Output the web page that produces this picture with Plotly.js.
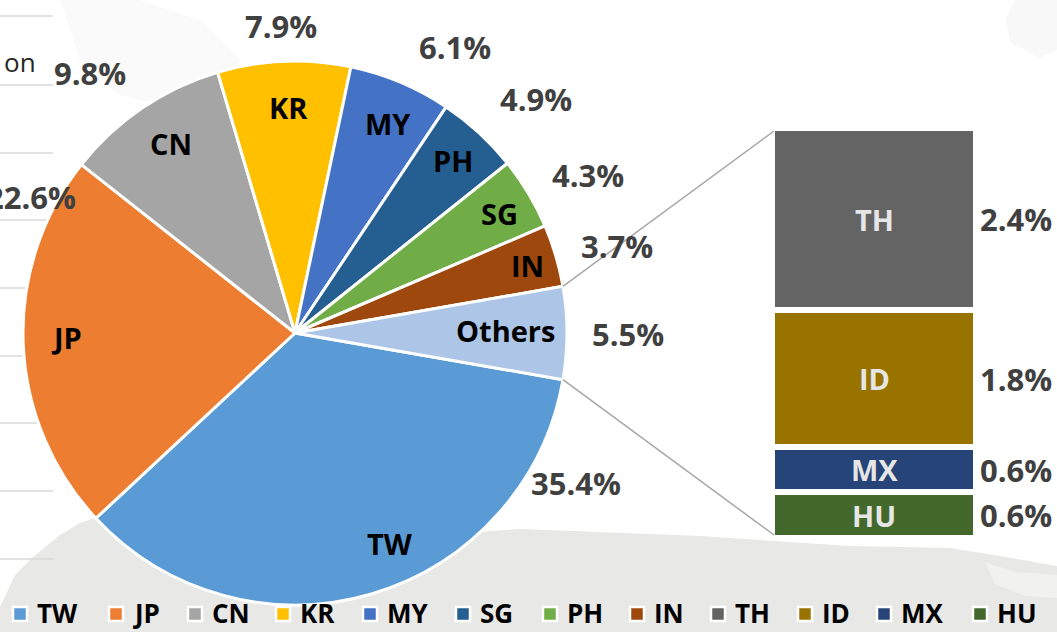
<!DOCTYPE html>
<html>
<head>
<meta charset="utf-8">
<script src="https://cdn.plot.ly/plotly-3.0.1.min.js"></script>
<style>
  html, body { margin: 0; padding: 0; background: #ffffff; }
  #chart { width: 1057px; height: 632px; }
</style>
</head>
<body>
<div id="chart"></div>
<script>
// ---------------- data ----------------
const pieLabels = ['TW', 'JP', 'CN', 'KR', 'MY', 'PH', 'SG', 'IN', 'Others'];
const pieValues = [35.4, 22.6, 9.8, 7.9, 6.1, 4.9, 4.3, 3.7, 5.5];
const pieColors = ['#5B9BD5', '#ED7D31', '#A5A5A5', '#FFC000', '#4472C4', '#255E91', '#70AD47', '#9E480E', '#ADC5E7'];

const subLabels = ['TH', 'ID', 'MX', 'HU'];
const subValues = [2.4, 1.8, 0.6, 0.6];
const subColors = ['#646464', '#997300', '#264478', '#43682B'];

const legendLabels = ['TW', 'JP', 'CN', 'KR', 'MY', 'SG', 'PH', 'IN', 'TH', 'ID', 'MX', 'HU'];
const legendColors = ['#5B9BD5', '#ED7D31', '#A5A5A5', '#FFC000', '#4472C4', '#255E91', '#70AD47', '#9E480E', '#646464', '#997300', '#264478', '#43682B'];

// ---------------- layout helpers (pixel positions of text) ----------------
const W = 1057, H = 632;
const px = x => x / W;
const py = y => 1 - y / H;

const pieCx = 295, pieCy = 333, pieR = 272;
const pieInsidePos = [[390, 543], [66, 337], [171, 143], [288, 107], [388, 123], [453, 160], [499, 213], [527, 265], [505, 330]];
const piePctPos = [[576, 483], [31, 197], [90, 73], [281, 26], [455, 47], [536, 99], [588, 175], [617, 246], [628, 334]];
const legendSquareX = [14, 110, 189, 277, 364, 457, 544, 631, 712, 799, 878, 974];
const legendY = 614;
const barBox = {x0: 772, x1: 976, y0: 128, y1: 538};

const FONT = '"Open Sans", "DejaVu Sans", sans-serif';
const pctFont = {family: FONT, size: 31, color: '#404040', weight: 'bold'};

const total = pieValues.reduce((a, b) => a + b, 0);
const othersDeg = pieValues[pieValues.length - 1] / total * 360;
const rotation = 90 + othersDeg / 2;

// ---------------- traces ----------------
const traces = [];
traces.push({
  type: 'pie',
  labels: pieLabels,
  values: pieValues,
  sort: false,
  direction: 'clockwise',
  rotation: rotation,
  marker: {colors: pieColors, line: {color: '#ffffff', width: 3}},
  textinfo: 'none',
  hoverinfo: 'skip',
  showlegend: false,
  domain: {x: [px(pieCx - pieR), px(pieCx + pieR)], y: [py(pieCy + pieR), py(pieCy - pieR)]}
});

// stacked bar (bottom to top: HU, MX, ID, TH)
for (let i = subLabels.length - 1; i >= 0; i--) {
  traces.push({
    type: 'bar',
    x: [0],
    y: [subValues[i]],
    width: 1,
    name: subLabels[i],
    marker: {color: subColors[i], line: {color: '#ffffff', width: 6}},
    hoverinfo: 'skip',
    showlegend: false,
    xaxis: 'x', yaxis: 'y'
  });
}

// ---------------- annotations ----------------
const annotations = [];
pieLabels.forEach((lab, i) => {
  annotations.push({
    xref: 'paper', yref: 'paper', x: px(pieInsidePos[i][0]), y: py(pieInsidePos[i][1]),
    text: lab, showarrow: false, xanchor: 'center', yanchor: 'middle',
    font: {family: FONT, size: 29, color: '#000000', weight: 'bold'}
  });
  annotations.push({
    xref: 'paper', yref: 'paper', x: px(piePctPos[i][0]), y: py(piePctPos[i][1]),
    text: pieValues[i].toFixed(1) + '%', showarrow: false, xanchor: 'center', yanchor: 'middle',
    font: pctFont
  });
});

// bar segment labels from data
const subTotal = subValues.reduce((a, b) => a + b, 0);
let cum = 0;
const mids = [];
for (let i = subLabels.length - 1; i >= 0; i--) {
  mids[i] = cum + subValues[i] / 2;
  cum += subValues[i];
}
subLabels.forEach((lab, i) => {
  annotations.push({
    xref: 'x', yref: 'y', x: 0, y: mids[i], text: lab, showarrow: false,
    xanchor: 'center', yanchor: 'middle',
    font: {family: FONT, size: 29, color: '#E6E6E6', weight: 'bold'}
  });
  annotations.push({
    xref: 'x', yref: 'y', x: 0.5, y: mids[i], text: subValues[i].toFixed(1) + '%', showarrow: false,
    xanchor: 'left', yanchor: 'middle', xshift: 2,
    font: pctFont
  });
});

// legend text (box bottom sits on the page edge)
legendLabels.forEach((lab, i) => {
  annotations.push({
    xref: 'paper', yref: 'paper', x: px(legendSquareX[i] + 22), y: 0,
    text: lab, showarrow: false, xanchor: 'left', yanchor: 'bottom', borderpad: 0,
    font: {family: FONT, size: 26, color: '#000000', weight: 'bold'}
  });
});

// cut-off background text
annotations.push({
  xref: 'paper', yref: 'paper', x: px(38), y: py(62), text: 'on', showarrow: false,
  xanchor: 'right', yanchor: 'middle',
  font: {family: FONT, size: 26, color: '#262626'}
});

// ---------------- shapes ----------------
const shapes = [];
function pathFrom(pts) {
  return 'M' + pts.map(p => px(p[0]).toFixed(5) + ',' + py(p[1]).toFixed(5)).join(' L') + ' Z';
}
// faint background photo (palm tree) approximation
shapes.push({type: 'path', xref: 'paper', yref: 'paper', layer: 'below', line: {width: 0}, fillcolor: '#e8e8e6',
  path: pathFrom([[0, 607], [15, 575], [33, 557], [60, 535], [80, 523], [97, 517], [140, 520], [200, 528], [300, 535], [400, 530], [460, 533], [520, 529], [600, 532], [700, 536], [760, 540], [850, 546], [950, 548], [1000, 556], [1057, 566], [1057, 632], [0, 632]])});
shapes.push({type: 'path', xref: 'paper', yref: 'paper', layer: 'below', line: {width: 0}, fillcolor: '#f1f1f0',
  path: pathFrom([[985, 562], [1015, 572], [1057, 575], [1057, 598], [1025, 596], [995, 584]])});
shapes.push({type: 'path', xref: 'paper', yref: 'paper', layer: 'below', line: {width: 0}, fillcolor: '#fafafa',
  path: pathFrom([[60, 0], [140, 0], [200, 20], [240, 60], [230, 100], [180, 110], [120, 95], [80, 60]])});
shapes.push({type: 'path', xref: 'paper', yref: 'paper', layer: 'below', line: {width: 0}, fillcolor: '#f8f8f8',
  path: pathFrom([[1015, 0], [1057, 0], [1057, 50], [1040, 58], [1010, 42], [1006, 18]])});

// left gridlines of a previous chart
[16, 85, 153, 220, 288, 356, 423, 491, 559].forEach(y => {
  shapes.push({type: 'line', xref: 'paper', yref: 'paper', layer: 'below',
    x0: 0, x1: px(53), y0: py(y), y1: py(y), line: {color: '#d9d9d9', width: 1.5}});
});

// connector lines from the "Others" slice edges to the bar corners
const aTop = (rotation - othersDeg) * Math.PI / 180;
const aBot = rotation * Math.PI / 180;
const edge = a => [pieCx + pieR * Math.sin(a), pieCy - pieR * Math.cos(a)];
const eTop = edge(aTop), eBot = edge(aBot);
shapes.push({type: 'line', xref: 'paper', yref: 'paper', layer: 'above',
  x0: px(eTop[0]), y0: py(eTop[1]), x1: px(barBox.x0 + 2), y1: py(barBox.y0 + 3), line: {color: '#A6A6A6', width: 1.5}});
shapes.push({type: 'line', xref: 'paper', yref: 'paper', layer: 'above',
  x0: px(eBot[0]), y0: py(eBot[1]), x1: px(barBox.x0 + 2), y1: py(barBox.y1 - 3), line: {color: '#A6A6A6', width: 1.5}});

// legend squares
legendColors.forEach((c, i) => {
  shapes.push({type: 'rect', xref: 'paper', yref: 'paper', layer: 'above',
    x0: px(legendSquareX[i] - 1), x1: px(legendSquareX[i] + 13), y0: py(legendY + 7), y1: py(legendY - 7),
    fillcolor: c, line: {color: '#ffffff', width: 2.5}});
});

const layout = {
  width: W, height: H,
  margin: {l: 0, r: 0, t: 0, b: 0},
  paper_bgcolor: '#ffffff',
  plot_bgcolor: 'rgba(0,0,0,0)',
  barmode: 'stack',
  showlegend: false,
  xaxis: {domain: [px(barBox.x0), px(barBox.x1)], range: [-0.5, 0.5], visible: false, fixedrange: true},
  yaxis: {domain: [py(barBox.y1), py(barBox.y0)], range: [0, subTotal], visible: false, fixedrange: true},
  annotations: annotations,
  shapes: shapes
};

Plotly.newPlot('chart', traces, layout, {displayModeBar: false, staticPlot: true});
</script>
</body>
</html>
